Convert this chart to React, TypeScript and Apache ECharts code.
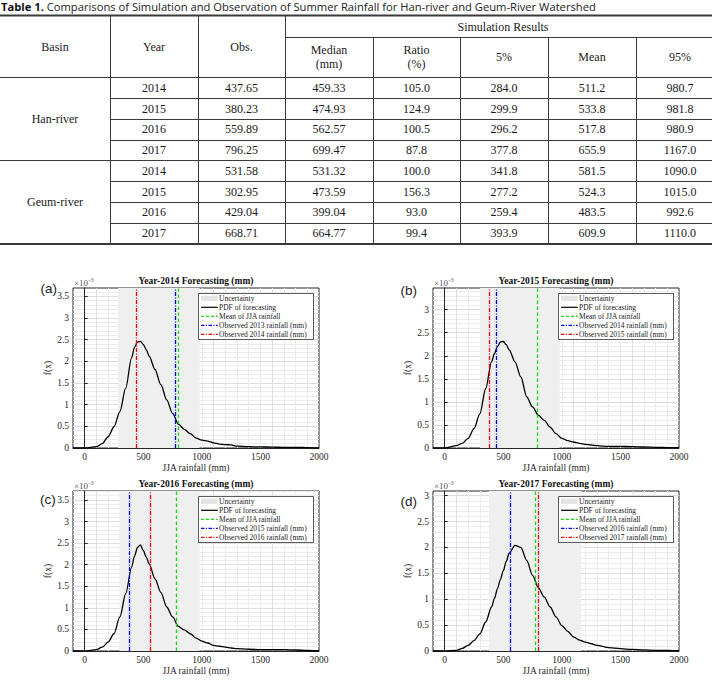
import React, { useEffect, useRef } from 'react';
import * as echarts from 'echarts';

// ---------------- Table data ----------------
const tableTitleBold = 'Table 1.';
const tableTitleRest = ' Comparisons of Simulation and Observation of Summer Rainfall for Han-river and Geum-River Watershed';
const basins = ['Han-river', 'Geum-river'];
const tableYears = ['2014', '2015', '2016', '2017', '2014', '2015', '2016', '2017'];
const obsValues = [437.65, 380.23, 559.89, 796.25, 531.58, 302.95, 429.04, 668.71];
const medianValues = [459.33, 474.93, 562.57, 699.47, 531.32, 473.59, 399.04, 664.77];
const ratioValues = [105.0, 124.9, 100.5, 87.8, 100.0, 156.3, 93.0, 99.4];
const p5Values = [284.0, 299.9, 296.2, 377.8, 341.8, 277.2, 259.4, 393.9];
const meanValues = [511.2, 533.8, 517.8, 655.9, 581.5, 524.3, 483.5, 609.9];
const p95Values = [980.7, 981.8, 980.9, 1167.0, 1090.0, 1015.0, 992.6, 1110.0];

// ---------------- Chart data ----------------
const panelLabels = ['(a)', '(b)', '(c)', '(d)'];
const forecastYears = [2014, 2015, 2016, 2017];
const prevObsRain = [770.0, 437.65, 380.23, 559.89];
const currObsRain = [437.65, 380.23, 559.89, 796.25];
const jjaMeanRain = [801, 793, 780, 771];
const bandLow = [284.0, 299.9, 296.2, 377.8];
const bandHigh = [980.7, 981.8, 980.9, 1167.0];
const yMaxes = [3.69, 3.47, 3.71, 3.09];
const xTickLabels = [0, 500, 1000, 1500, 2000];
const rainfallGrid = [-100, 0, 100, 150, 200, 250, 300, 350, 400, 425, 450, 475, 500, 525, 550, 600, 650, 700, 750, 800, 850, 900, 950, 1000, 1050, 1100, 1150, 1200, 1250, 1300, 1400, 1500, 1600, 1700, 1800, 1900, 2000];
// f(x) in units of 1e-3
const pdf2014 = [0, 0.0, 0.03, 0.1, 0.26, 0.49, 0.84, 1.38, 2.08, 2.32, 2.44, 2.46, 2.39, 2.27, 2.12, 1.81, 1.46, 1.11, 0.8, 0.55, 0.43, 0.33, 0.23, 0.18, 0.16, 0.12, 0.09, 0.08, 0.07, 0.045, 0.03, 0.025, 0.02, 0.015, 0.015, 0.01, 0.003];
const pdf2015 = [0, 0.0, 0.05, 0.1, 0.21, 0.42, 0.74, 1.29, 1.87, 2.05, 2.2, 2.3, 2.31, 2.24, 2.13, 1.87, 1.54, 1.11, 0.89, 0.71, 0.6, 0.45, 0.31, 0.21, 0.16, 0.13, 0.1, 0.08, 0.065, 0.05, 0.035, 0.035, 0.03, 0.022, 0.015, 0.01, 0.007];
const pdf2016 = [0, 0.0, 0.03, 0.09, 0.21, 0.4, 0.79, 1.33, 1.94, 2.2, 2.4, 2.46, 2.33, 2.18, 2.02, 1.67, 1.36, 1.02, 0.79, 0.57, 0.49, 0.4, 0.3, 0.23, 0.185, 0.13, 0.11, 0.09, 0.07, 0.054, 0.04, 0.03, 0.03, 0.03, 0.023, 0.012, 0.003];
const pdf2017 = [0, 0.0, 0.013, 0.05, 0.11, 0.2, 0.33, 0.56, 0.85, 1.02, 1.2, 1.38, 1.55, 1.73, 1.89, 2.04, 2.0, 1.75, 1.46, 1.22, 1.04, 0.85, 0.66, 0.49, 0.38, 0.27, 0.21, 0.17, 0.14, 0.11, 0.064, 0.045, 0.03, 0.02, 0.013, 0.013, 0.006];
const pdfs = [pdf2014, pdf2015, pdf2016, pdf2017];

// ---------------- Styles / layout ----------------
const SERIF = '"Liberation Serif", "Times New Roman", serif';
const SANS = '"Open Sans", "Noto Sans", sans-serif';
const INK = '#1a1a1a';
const TABLE_LINE = '#3a3a3a';
const GREEN = '#11dd11';
const BLUE = '#0000ff';
const RED = '#ff0000';
const BAND = '#efefef';

const gridLefts = [73, 433, 73, 433];
const gridTops = [288, 288, 491, 491];
const gridW = 246;
const gridH = 160;
const labelPos = [[40.5, 288], [400.5, 290], [40, 499], [400.5, 501]];

function text(x: number, y: number, s: string, o: any = {}) {
  const align = o.align ?? 'center';
  const va = o.va ?? 'middle';
  return {
    type: 'text', x, y, z: o.z ?? 60, silent: true,
    style: {
      text: s, fill: o.fill ?? INK, fontSize: o.size ?? 12, fontFamily: o.family ?? SERIF,
      fontWeight: o.weight ?? 'normal', align, verticalAlign: va, textAlign: align, textVerticalAlign: va,
    },
  };
}
function line(x1: number, y1: number, x2: number, y2: number, stroke: string, lineWidth = 1, lineDash?: number[], z = 60) {
  return { type: 'line', z, silent: true, shape: { x1, y1, x2, y2 }, style: { stroke, lineWidth, ...(lineDash ? { lineDash } : {}) } };
}

function buildTable(): any[] {
  const g: any[] = [];
  g.push({
    type: 'text', x: 1, y: 0.5, z: 60, silent: true,
    style: {
      text: '{b|' + tableTitleBold + '}' + tableTitleRest,
      fill: '#222', fontSize: 11.2, fontFamily: SANS, align: 'left', verticalAlign: 'top', textAlign: 'left', textVerticalAlign: 'top',
      rich: { b: { fontWeight: 'bold', fontSize: 11.2, fontFamily: SANS, fill: '#111' } },
    },
  });
  // lines
  g.push(line(0, 15.5, 712, 15.5, TABLE_LINE, 2));
  g.push(line(0, 244, 712, 244, TABLE_LINE, 2));
  g.push(line(0, 77.5, 712, 77.5, TABLE_LINE, 1));
  g.push(line(0, 160.5, 712, 160.5, TABLE_LINE, 1.2));
  g.push(line(285, 37.5, 712, 37.5, TABLE_LINE, 1));
  [98.5, 119.5, 140.5, 181.5, 202.5, 223.5].forEach((y) => g.push(line(110, y, 712, y, TABLE_LINE, 1)));
  [110.5, 198.5, 285.5].forEach((x) => g.push(line(x, 16, x, 243, TABLE_LINE, 1)));
  [373.5, 460.5, 548.5, 636.5].forEach((x) => g.push(line(x, 37.5, x, 243, TABLE_LINE, 1)));
  // header
  g.push(text(55, 47, 'Basin'));
  g.push(text(154, 47, 'Year'));
  g.push(text(241.5, 47, 'Obs.'));
  g.push(text(503, 26.5, 'Simulation Results'));
  g.push(text(329, 50, 'Median'));
  g.push(text(329, 64, '(mm)'));
  g.push(text(416.5, 50, 'Ratio'));
  g.push(text(416.5, 64, '(%)'));
  g.push(text(504, 57, '5%'));
  g.push(text(592, 57, 'Mean'));
  g.push(text(680, 57, '95%'));
  // body
  g.push(text(55, 118.5, basins[0]));
  g.push(text(55, 202, basins[1]));
  const rowYs = [87.8, 108.6, 129.4, 150.2, 170.8, 191.6, 212.4, 233.4];
  const colXs = [154, 241.5, 329, 416.5, 504, 592, 680];
  rowYs.forEach((y, i) => {
    const cells = [
      tableYears[i], obsValues[i].toFixed(2), medianValues[i].toFixed(2), ratioValues[i].toFixed(1),
      p5Values[i].toFixed(1), meanValues[i].toFixed(1), p95Values[i].toFixed(1),
    ];
    cells.forEach((c, j) => g.push(text(colXs[j], y, c)));
  });
  return g;
}

function buildPanelDecor(i: number): any[] {
  const L = gridLefts[i];
  const T = gridTops[i];
  const g: any[] = [];
  g.push(text(L + gridW / 2, T - 7, `Year-${forecastYears[i]} Forecasting (mm)`, { size: 9.5, weight: 'bold', fill: '#111' }));
  g.push(text(L + 1, T - 5, '×10', { size: 9, align: 'left', fill: '#555' }));
  g.push(text(L + 15.5, T - 8, '-3', { size: 6, align: 'left', fill: '#555' }));
  g.push(text(labelPos[i][0], labelPos[i][1], panelLabels[i], { size: 13.5, family: '"Liberation Sans", Arial, sans-serif', align: 'left', fill: '#222' }));
  // legend box
  const bx = L + 125.5;
  const by = T + 5.5;
  g.push({ type: 'rect', z: 55, silent: true, shape: { x: bx, y: by, width: 115, height: 46 }, style: { fill: '#ffffff', stroke: '#333', lineWidth: 0.8 } });
  const sx1 = L + 128;
  const sx2 = L + 144.7;
  const tx = L + 146;
  const rowY = (k: number) => T + 10.3 + k * 9.0;
  g.push({ type: 'rect', z: 60, silent: true, shape: { x: sx1, y: rowY(0) - 2.6, width: sx2 - sx1, height: 5.2 }, style: { fill: '#e4e4e4' } });
  g.push(line(sx1, rowY(1), sx2, rowY(1), '#000', 1.2));
  g.push(line(sx1, rowY(2), sx2, rowY(2), GREEN, 1.2, [3, 2]));
  g.push(line(sx1, rowY(3), sx2, rowY(3), BLUE, 1.2, [3.5, 1.5, 1, 1.5]));
  g.push(line(sx1, rowY(4), sx2, rowY(4), RED, 1.2, [3.5, 1.5, 1, 1.5]));
  const names = [
    'Uncertainty', 'PDF of forecasting', 'Mean of JJA rainfall',
    `Observed ${forecastYears[i] - 1} rainfall (mm)`, `Observed ${forecastYears[i]} rainfall (mm)`,
  ];
  names.forEach((n, k) => g.push(text(tx, rowY(k), n, { size: 7.5, align: 'left', fill: '#222' })));
  return g;
}

function buildOption(): any {
  const grid: any[] = [];
  const xAxis: any[] = [];
  const yAxis: any[] = [];
  const series: any[] = [];
  const axisText = { color: '#262626', fontFamily: SERIF, fontSize: 9.5 };
  for (let i = 0; i < 4; i++) {
    grid.push({
      left: gridLefts[i], top: gridTops[i], width: gridW, height: gridH,
      show: true, borderColor: '#262626', borderWidth: 1, backgroundColor: '#ffffff',
      containLabel: false, outerBoundsMode: 'none',
    });
    xAxis.push({
      type: 'value', gridIndex: i, min: -100, max: 2000, interval: 100,
      axisLine: { show: true, lineStyle: { color: '#262626', width: 1 } },
      axisTick: { show: false },
      axisLabel: {
        ...axisText, margin: 4,
        formatter: (v: number) => (xTickLabels.indexOf(Math.round(v)) >= 0 ? String(Math.round(v)) : ''),
      },
      splitLine: {
        show: true, showMinLine: false, showMaxLine: false,
        lineStyle: { color: ['#ececec', '#dddddd', '#ececec', '#ececec', '#ececec'], width: 1 },
      },
      name: 'JJA rainfall (mm)', nameLocation: 'middle', nameGap: 13,
      nameTextStyle: { color: '#262626', fontFamily: SERIF, fontSize: 9.5 },
    });
    yAxis.push({
      type: 'value', gridIndex: i, min: 0, max: yMaxes[i], interval: 0.5,
      axisLine: { show: true, lineStyle: { color: '#262626', width: 1 } },
      axisTick: { show: true, inside: true, length: 3, lineStyle: { color: '#262626' } },
      axisLabel: { ...axisText, margin: 4, showMaxLabel: false },
      splitLine: { show: true, showMinLine: false, showMaxLine: false, lineStyle: { color: '#dddddd', width: 1 } },
      minorTick: { show: false, splitNumber: 5 },
      minorSplitLine: { show: true, lineStyle: { color: '#ececec', width: 1 } },
      name: 'f(x)', nameLocation: 'middle', nameGap: 15,
      nameTextStyle: { color: '#262626', fontFamily: SERIF, fontSize: 9.5 },
    });
    series.push({
      type: 'line', name: `PDF ${forecastYears[i]}`, xAxisIndex: i, yAxisIndex: i,
      data: rainfallGrid.map((x, k) => [x, pdfs[i][k]]),
      symbol: 'none', showSymbol: false, smooth: 0.3, smoothMonotone: 'x', z: 3,
      lineStyle: { color: '#000000', width: 1.3 },
      markArea: {
        silent: true, itemStyle: { color: BAND },
        data: [[{ xAxis: bandLow[i] }, { xAxis: bandHigh[i] }]],
      },
      markLine: {
        silent: true, symbol: ['none', 'none'], label: { show: false },
        data: [
          { xAxis: jjaMeanRain[i], lineStyle: { color: GREEN, width: 1.3, type: [3.5, 2.5] } },
          { xAxis: prevObsRain[i], lineStyle: { color: BLUE, width: 1.3, type: [4, 1.5, 1, 1.5] } },
          { xAxis: currObsRain[i], lineStyle: { color: RED, width: 1.3, type: [4, 1.5, 1, 1.5] } },
        ],
      },
    });
  }
  const graphic: any[] = [...buildTable()];
  for (let i = 0; i < 4; i++) graphic.push(...buildPanelDecor(i));
  return {
    animation: false,
    backgroundColor: '#ffffff',
    grid, xAxis, yAxis, series,
    graphic: { elements: graphic },
  };
}

export default function App() {
  const ref = useRef<HTMLDivElement>(null);
  useEffect(() => {
    document.body.style.margin = '0';
    const chart = echarts.init(ref.current as HTMLDivElement, undefined, { renderer: 'svg' });
    chart.setOption(buildOption());
    return () => chart.dispose();
  }, []);
  return <div ref={ref} style={{ position: 'absolute', left: 0, top: 0, width: 712, height: 683, background: '#fff' }} />;
}
